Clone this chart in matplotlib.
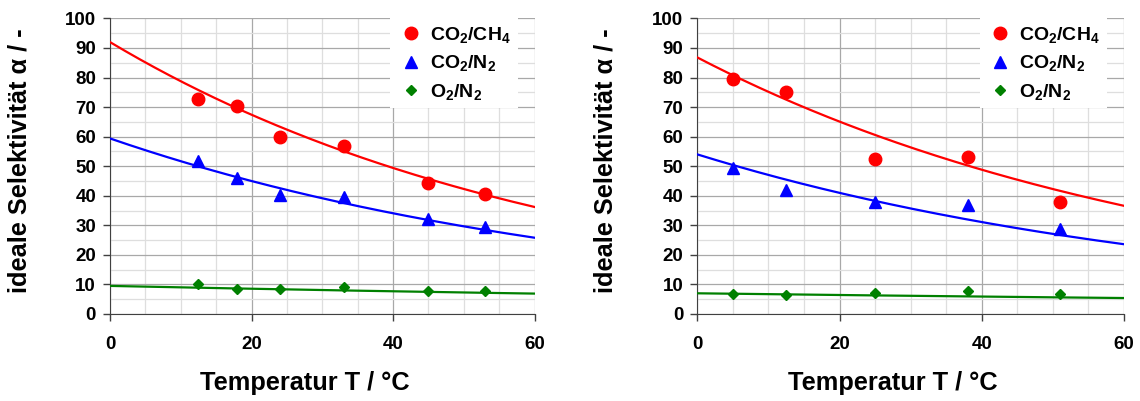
import matplotlib.pyplot as plt
import numpy as np

plt.rcParams['font.family'] = ['Liberation Sans', 'DejaVu Sans']
plt.rcParams['font.weight'] = 'bold'
plt.rcParams['axes.labelweight'] = 'bold'
plt.rcParams['mathtext.default'] = 'bf'
plt.rcParams['mathtext.fontset'] = 'custom'
plt.rcParams['mathtext.bf'] = 'Liberation Sans:bold'
plt.rcParams['mathtext.rm'] = 'Liberation Sans:bold'

# left panel (measured values)
T_left = [12.5, 18, 24, 33, 45, 53]
co2ch4_left = [72.6, 70.3, 59.8, 56.8, 44.2, 40.5]
co2n2_left = [51.7, 46.1, 40.2, 39.6, 32.1, 29.5]
o2n2_left = [10.1, 8.6, 8.6, 9.2, 7.8, 7.9]

# right panel (measured values)
T_right = [5, 12.5, 25, 38, 51]
co2ch4_right = [79.6, 75.0, 52.4, 53.1, 38.0]
co2n2_right = [49.3, 41.9, 38.0, 36.9, 28.6]
o2n2_right = [6.9, 6.5, 7.1, 7.8, 6.7]

# exponential trend lines, value at 0 °C and at 60 °C
trend_left = {'co2ch4': (92.0, 36.2), 'co2n2': (59.4, 25.8), 'o2n2': (9.5, 6.9)}
trend_right = {'co2ch4': (86.8, 36.6), 'co2n2': (54.0, 23.6), 'o2n2': (7.0, 5.4)}

labels = {'co2ch4': 'CO$_\\mathbf{2}$/CH$_\\mathbf{4}$',
          'co2n2': 'CO$_\\mathbf{2}$/N$_\\mathbf{2}$',
          'o2n2': 'O$_\\mathbf{2}$/N$_\\mathbf{2}$'}
styles = {'co2ch4': ('red', 'o', 9),
          'co2n2': ('blue', '^', 8.5),
          'o2n2': ('green', 'D', 5)}


def panel(ax, T, series, trend):
    Tf = np.linspace(0, 60, 200)
    for key, vals in series.items():
        c, m, ms = styles[key]
        a0, a60 = trend[key]
        ax.plot(Tf, a0 * (a60 / a0) ** (Tf / 60), color=c, lw=1.6, zorder=3)
        ax.plot(T, vals, ls='none', marker=m, ms=ms, color=c, mec=c,
                label=labels[key], zorder=4)

    ax.set_xlim(0, 60)
    ax.set_ylim(0, 100)
    ax.set_xticks([0, 20, 40, 60])
    ax.set_yticks(range(0, 101, 10))
    ax.set_xticks(range(0, 61, 5), minor=True)
    ax.set_yticks(range(0, 101, 5), minor=True)
    ax.grid(which='major', color='#a8a8a8', lw=0.9)
    ax.grid(which='minor', color='#dedede', lw=0.9)
    ax.set_axisbelow(True)
    ax.tick_params(which='minor', length=0)
    ax.tick_params(which='major', direction='out', length=5, width=1,
                   color='#404040', labelsize=13.5, pad=5)
    ax.tick_params(axis='x', pad=11)
    for s in ['top', 'right']:
        ax.spines[s].set_visible(False)
    for s in ['left', 'bottom']:
        ax.spines[s].set_color('#404040')
    ax.set_xlabel('Temperatur T / °C', fontsize=18.3)
    ax.set_ylabel('ideale Selektivität α / -', fontsize=18.3)
    ax.xaxis.set_label_coords(0.459, -0.193)
    ax.yaxis.set_label_coords(-0.186, 0.52)
    leg = ax.legend(loc='upper right', bbox_to_anchor=(0.96, 1.0), fontsize=14,
                    frameon=True, fancybox=False, framealpha=1, edgecolor='white',
                    handletextpad=0.3, borderaxespad=0.0, labelspacing=0.42,
                    handlelength=1.4, borderpad=0.35)
    leg.get_frame().set_linewidth(0)


fig = plt.figure(figsize=(11.4, 4.01), dpi=100)
ax1 = fig.add_axes([0.0965, 0.217, 0.3725, 0.737])
ax2 = fig.add_axes([0.6117, 0.217, 0.3743, 0.737])

panel(ax1, T_left, {'co2ch4': co2ch4_left, 'co2n2': co2n2_left, 'o2n2': o2n2_left},
      trend_left)
panel(ax2, T_right, {'co2ch4': co2ch4_right, 'co2n2': co2n2_right, 'o2n2': o2n2_right},
      trend_right)

fig.savefig('out.png', dpi=100)
